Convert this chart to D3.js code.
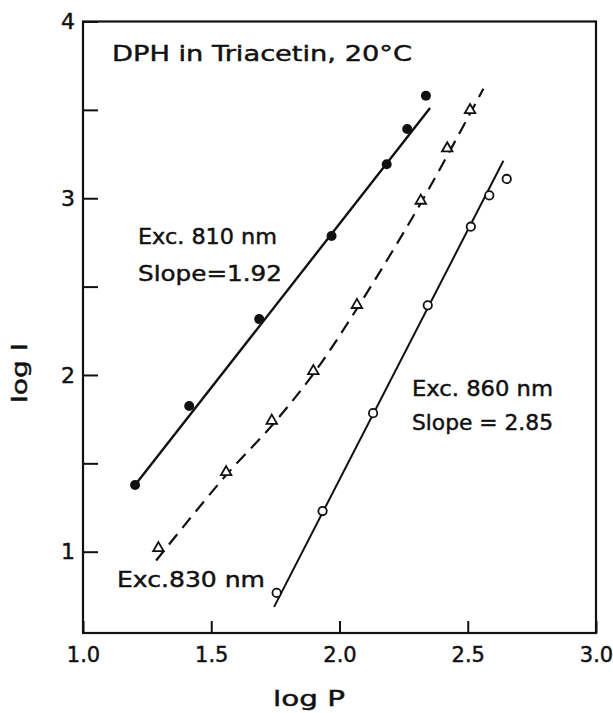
<!DOCTYPE html>
<html>
<head>
<meta charset="utf-8">
<script src="https://cdn.jsdelivr.net/npm/d3@7"></script>
<style>
  html, body { margin: 0; padding: 0; background: #fff; }
  svg { display: block; }
  text { font-family: "DejaVu Sans", sans-serif; fill: #111; stroke: #111; stroke-width: 0.45px; }
</style>
</head>
<body>
<svg id="chart" width="613" height="713"></svg>
<script>
// ---- data ----
const xTickValues = [1.0, 1.5, 2.0, 2.5, 3.0];
const yTickValues = [1, 1.5, 2, 2.5, 3, 3.5, 4];

// Exc. 810 nm (filled circles)
const exc810X = [1.203, 1.414, 1.687, 1.969, 2.184, 2.264, 2.337];
const exc810Y = [1.377, 1.824, 2.316, 2.786, 3.192, 3.392, 3.580];
const fit810 = [[1.203, 1.377], [2.353, 3.510]];

// Exc. 830 nm (open triangles)
const exc830X = [1.294, 1.558, 1.736, 1.898, 2.068, 2.317, 2.420, 2.509];
const exc830Y = [1.020, 1.450, 1.741, 2.022, 2.396, 2.986, 3.282, 3.499];
const curve830 = [[1.285, 0.95], [1.55, 1.42], [1.74, 1.72], [1.90, 2.01], [2.07, 2.38], [2.32, 2.98], [2.561, 3.62]];

// Exc. 860 nm (open circles)
const exc860X = [1.755, 1.934, 2.131, 2.344, 2.512, 2.584, 2.652];
const exc860Y = [0.767, 1.230, 1.784, 2.394, 2.839, 3.016, 3.109];
const fit860 = [[1.745, 0.688], [2.639, 3.212]];

const svg = d3.select("#chart");
const x = d3.scaleLinear().domain([1, 3]).range([83, 596]);
const y = d3.scaleLinear().domain([0.54, 4]).range([633, 21.5]);
const ink = "#111";

// axes
const xAxis = d3.axisBottom(x).tickValues(xTickValues).tickSizeInner(-12).tickSizeOuter(0)
  .tickPadding(14).tickFormat(d3.format(".1f"));
const gx = svg.append("g").attr("transform", `translate(0,${y(0.54)})`).call(xAxis);
gx.select(".domain").remove();
gx.selectAll(".tick line").attr("stroke", ink).attr("stroke-width", 2);
gx.selectAll(".tick text").attr("font-size", 21).attr("font-family", "DejaVu Sans")
  .attr("fill", ink).attr("dy", "0.71em").attr("y", 14);

const yAxis = d3.axisLeft(y).tickValues(yTickValues).tickSizeInner(-15).tickSizeOuter(0)
  .tickPadding(8).tickFormat(d => Number.isInteger(d) ? d : "");
const gy = svg.append("g").attr("transform", `translate(${x(1)},0)`).call(yAxis);
gy.select(".domain").remove();
gy.selectAll(".tick line").attr("stroke", ink).attr("stroke-width", 2);
gy.selectAll(".tick text").attr("font-size", 22).attr("font-family", "DejaVu Sans").attr("fill", ink);

// frame
svg.append("rect")
  .attr("x", x(1)).attr("y", y(4))
  .attr("width", x(3) - x(1)).attr("height", y(0.54) - y(4))
  .attr("fill", "none").attr("stroke", ink).attr("stroke-width", 2.2);

// lines
const line = d3.line().x(d => x(d[0])).y(d => y(d[1]));
svg.append("path").datum(fit810).attr("d", line)
  .attr("fill", "none").attr("stroke", ink).attr("stroke-width", 2.4);
svg.append("path").datum(fit860).attr("d", line)
  .attr("fill", "none").attr("stroke", ink).attr("stroke-width", 2);
svg.append("path").datum(curve830).attr("d", line.curve(d3.curveCatmullRom))
  .attr("fill", "none").attr("stroke", ink).attr("stroke-width", 2.2)
  .attr("stroke-dasharray", "13,8");

// markers
svg.append("g").selectAll("circle").data(exc810X).join("circle")
  .attr("cx", d => x(d)).attr("cy", (d, i) => y(exc810Y[i])).attr("r", 5)
  .attr("fill", ink);

svg.append("g").selectAll("circle").data(exc860X).join("circle")
  .attr("cx", d => x(d)).attr("cy", (d, i) => y(exc860Y[i])).attr("r", 4.2)
  .attr("fill", "#fff").attr("stroke", ink).attr("stroke-width", 1.8);

const tri = d3.symbol().type(d3.symbolTriangle).size(48);
svg.append("g").selectAll("path").data(exc830X).join("path")
  .attr("transform", (d, i) => `translate(${x(d)},${y(exc830Y[i])})`)
  .attr("d", tri).attr("fill", "#fff").attr("stroke", ink).attr("stroke-width", 1.8);

// texts
function label(txt, xx, yy, size, len) {
  svg.append("text").attr("x", xx).attr("y", yy).attr("font-size", size)
    .attr("textLength", len).attr("lengthAdjust", "spacingAndGlyphs").text(txt);
}
label("DPH in Triacetin, 20°C", 112, 61, 22, 300);
label("Exc. 810 nm", 138, 244, 22, 139);
label("Slope=1.92", 138, 281, 22, 144);
label("Exc. 860 nm", 412, 396, 22, 141);
label("Slope = 2.85", 412, 430, 22, 141);
label("Exc.830 nm", 117, 587, 22, 148);
label("log P", 273, 706, 21, 72);

svg.append("text")
  .attr("transform", "translate(27,373) rotate(-90)")
  .attr("text-anchor", "middle").attr("font-size", 21)
  .attr("textLength", 60).attr("lengthAdjust", "spacingAndGlyphs")
  .text("log I");
</script>
</body>
</html>
